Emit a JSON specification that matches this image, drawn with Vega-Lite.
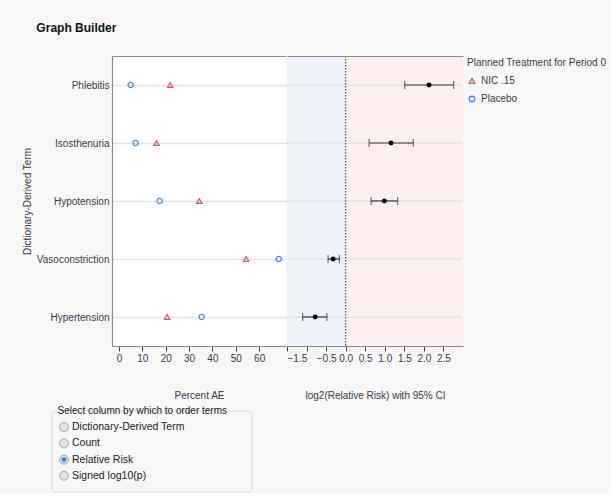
{
  "$schema": "https://vega.github.io/schema/vega-lite/v6.json",
  "background": "#f7f7f7",
  "padding": {"left": 22, "top": 22, "right": 0, "bottom": 0},
  "config": {
    "font": "Liberation Sans",
    "view": {"stroke": null, "fill": "white"},
    "axis": {"labelFont": "Liberation Sans", "labelFontSize": 10, "labelColor": "#3a3a4a", "titleFont": "Liberation Sans", "titleFontSize": 10, "titleFontWeight": "normal", "titleColor": "#3a3a4a", "domainColor": "#8a8a8a", "domainWidth": 1.2, "tickColor": "#444", "gridColor": "#e4e4e4"},
    "legend": {"labelFont": "Liberation Sans", "labelFontSize": 10, "labelColor": "#3a3a4a", "titleFont": "Liberation Sans", "titleFontSize": 10, "titleFontWeight": "normal", "titleColor": "#3a3a4a"}
  },
  "title": {"text": "Graph Builder", "anchor": "start", "frame": "bounds", "fontSize": 12, "fontWeight": "bold", "color": "#111111", "font": "Liberation Sans", "offset": 20, "dx": 14},
  "datasets": {
    "pct": [
      {"term": "Phlebitis", "trt": "NIC .15", "pct": 21.9},
      {"term": "Phlebitis", "trt": "Placebo", "pct": 5.0},
      {"term": "Isosthenuria", "trt": "NIC .15", "pct": 16.1},
      {"term": "Isosthenuria", "trt": "Placebo", "pct": 7.1},
      {"term": "Hypotension", "trt": "NIC .15", "pct": 34.4},
      {"term": "Hypotension", "trt": "Placebo", "pct": 17.4},
      {"term": "Vasoconstriction", "trt": "NIC .15", "pct": 54.4},
      {"term": "Vasoconstriction", "trt": "Placebo", "pct": 68.4},
      {"term": "Hypertension", "trt": "NIC .15", "pct": 20.6},
      {"term": "Hypertension", "trt": "Placebo", "pct": 35.4}
    ],
    "rr": [
      {"term": "Phlebitis", "est": 2.13, "lo": 1.51, "hi": 2.76},
      {"term": "Isosthenuria", "est": 1.16, "lo": 0.60, "hi": 1.73},
      {"term": "Hypotension", "est": 0.99, "lo": 0.65, "hi": 1.33},
      {"term": "Vasoconstriction", "est": -0.32, "lo": -0.45, "hi": -0.16},
      {"term": "Hypertension", "est": -0.78, "lo": -1.10, "hi": -0.48}
    ],
    "bands": [
      {"side": "neg", "x0": -1.5, "x1": 0},
      {"side": "pos", "x0": 0, "x1": 3}
    ],
    "options": [
      {"option": "Dictionary-Derived Term", "selected": false},
      {"option": "Count", "selected": false},
      {"option": "Relative Risk", "selected": true},
      {"option": "Signed log10(p)", "selected": false}
    ]
  },
  "spacing": 5,
  "vconcat": [
    {
      "spacing": 0,
      "hconcat": [
        {
          "width": 174,
          "height": 290,
          "data": {"name": "pct"},
          "layer": [
            {
              "mark": {"type": "point", "filled": false, "strokeWidth": 1.3, "size": 28, "opacity": 1},
              "encoding": {
                "x": {"field": "pct", "type": "quantitative", "scale": {"domain": [-3, 71.5], "nice": false, "zero": false},
                  "axis": {"values": [0, 10, 20, 30, 40, 50, 60], "title": "Percent AE", "titlePadding": 27, "grid": false, "tickSize": 5, "labelFlush": false, "labelOverlap": false}},
                "y": {"field": "term", "type": "nominal", "sort": ["Phlebitis", "Isosthenuria", "Hypotension", "Vasoconstriction", "Hypertension"], "scale": {"type": "point", "padding": 0.5},
                  "axis": {"title": "Dictionary-Derived Term", "ticks": false, "labelPadding": 3, "grid": true, "gridWidth": 1.5, "titlePadding": 4}},
                "color": {"field": "trt", "type": "nominal", "scale": {"domain": ["NIC .15", "Placebo"], "range": ["#e0505f", "#4d86e3"]},
                  "legend": {"title": "Planned Treatment for Period 0", "orient": "right", "offset": 1, "symbolSize": 30, "symbolStrokeWidth": 1.3, "rowPadding": 7, "titlePadding": 8, "padding": 2}},
                "shape": {"field": "trt", "type": "nominal", "scale": {"domain": ["NIC .15", "Placebo"], "range": ["triangle-up", "circle"]},
                  "legend": {"title": "Planned Treatment for Period 0", "orient": "right", "offset": 1, "symbolSize": 30, "symbolStrokeWidth": 1.3, "rowPadding": 7, "titlePadding": 8, "padding": 2}}
              }
            },
            {
              "mark": {"type": "point", "opacity": 0},
              "encoding": {
                "x": {"field": "pct", "type": "quantitative", "axis": {"orient": "top", "labels": false, "ticks": false, "title": null, "grid": false}}
              }
            }
          ],
          "resolve": {"axis": {"x": "independent"}}
        },
        {
          "width": 176,
          "height": 290,
          "layer": [
            {
              "data": {"name": "bands"},
              "transform": [{"filter": "datum.side == 'neg'"}],
              "mark": {"type": "rect", "color": "#edf2fd"},
              "encoding": {
                "x": {"field": "x0", "type": "quantitative", "scale": {"domain": [-1.5, 3], "nice": false, "zero": false},
                  "axis": {"orient": "top", "labels": false, "ticks": false, "title": null, "grid": false, "zindex": 2}},
                "x2": {"field": "x1"}
              }
            },
            {
              "data": {"name": "bands"},
              "transform": [{"filter": "datum.side == 'pos'"}],
              "mark": {"type": "rect", "color": "#fdeff0"},
              "encoding": {
                "x": {"field": "x0", "type": "quantitative", "axis": null},
                "x2": {"field": "x1"}
              }
            },
            {
              "data": {"name": "rr"},
              "mark": {"type": "rule", "color": "#e3e3e3", "strokeWidth": 1.5},
              "encoding": {
                "y": {"field": "term", "type": "nominal", "sort": ["Phlebitis", "Isosthenuria", "Hypotension", "Vasoconstriction", "Hypertension"], "scale": {"type": "point", "padding": 0.5},
                  "axis": {"orient": "right", "labels": false, "ticks": false, "title": null, "grid": false, "zindex": 2}}
              }
            },
            {
              "data": {"name": "bands"},
              "transform": [{"filter": "datum.side == 'pos'"}],
              "mark": {"type": "rule", "color": "#555555", "strokeDash": [1.5, 1.5], "strokeWidth": 1.2},
              "encoding": {
                "x": {"field": "x0", "type": "quantitative", "axis": null}
              }
            },
            {
              "data": {"name": "rr"},
              "mark": {"type": "rule", "color": "#333333", "strokeWidth": 1.2},
              "encoding": {
                "x": {"field": "lo", "type": "quantitative",
                  "axis": {"values": [-1.5, -1, -0.5, 0, 0.5, 1, 1.5, 2, 2.5], "format": ".1f", "labelExpr": "datum.value == -1 ? '' : datum.label", "title": "log2(Relative Risk) with 95% CI", "titlePadding": 27, "tickSize": 5, "labelFlush": true, "labelOverlap": false, "grid": false, "zindex": 2}},
                "x2": {"field": "hi"},
                "y": {"field": "term", "type": "nominal", "sort": ["Phlebitis", "Isosthenuria", "Hypotension", "Vasoconstriction", "Hypertension"], "axis": null}
              }
            },
            {
              "data": {"name": "rr"},
              "mark": {"type": "tick", "orient": "vertical", "color": "#333333", "size": 8, "thickness": 1.2},
              "encoding": {
                "x": {"field": "lo", "type": "quantitative", "axis": null},
                "y": {"field": "term", "type": "nominal", "sort": ["Phlebitis", "Isosthenuria", "Hypotension", "Vasoconstriction", "Hypertension"], "axis": null}
              }
            },
            {
              "data": {"name": "rr"},
              "mark": {"type": "tick", "orient": "vertical", "color": "#333333", "size": 8, "thickness": 1.2},
              "encoding": {
                "x": {"field": "hi", "type": "quantitative", "axis": null},
                "y": {"field": "term", "type": "nominal", "sort": ["Phlebitis", "Isosthenuria", "Hypotension", "Vasoconstriction", "Hypertension"], "axis": null}
              }
            },
            {
              "data": {"name": "rr"},
              "mark": {"type": "circle", "color": "#000000", "size": 24, "opacity": 1},
              "encoding": {
                "x": {"field": "est", "type": "quantitative", "axis": null},
                "y": {"field": "term", "type": "nominal", "sort": ["Phlebitis", "Isosthenuria", "Hypotension", "Vasoconstriction", "Hypertension"], "axis": null}
              }
            }
          ],
          "resolve": {"axis": {"x": "independent"}}
        }
      ]
    },
    {
      "width": 140,
      "height": 81,
      "view": {"fill": null, "stroke": null},
      "title": {"text": "Select column by which to order terms", "anchor": "start", "fontSize": 10, "fontWeight": "normal", "color": "#222222", "font": "Liberation Sans", "offset": -5, "dx": 6},
      "data": {"name": "options"},
      "layer": [
        {
          "transform": [{"filter": "datum.selected"}],
          "mark": {"type": "rect", "fill": null, "stroke": "#d6d6d6", "strokeWidth": 1, "cornerRadius": 3},
          "encoding": {
            "x": {"datum": -3, "type": "quantitative", "scale": {"domain": [0, 7], "nice": false, "zero": false}, "axis": null},
            "x2": {"datum": 7}
          }
        },
        {
          "mark": {"type": "point", "filled": true, "size": 80, "color": "#e2e2e2", "stroke": "#a8a8a8", "strokeWidth": 1, "opacity": 1},
          "encoding": {
            "x": {"datum": -2.4, "type": "quantitative", "axis": null},
            "y": {"field": "option", "type": "nominal", "sort": null, "scale": {"type": "point", "padding": 1.05}, "axis": null}
          }
        },
        {
          "transform": [{"filter": "datum.selected"}],
          "mark": {"type": "point", "filled": true, "size": 22, "color": "#2a8fc8", "opacity": 1},
          "encoding": {
            "x": {"datum": -2.4, "type": "quantitative", "axis": null},
            "y": {"field": "option", "type": "nominal", "sort": null, "axis": null}
          }
        },
        {
          "mark": {"type": "text", "align": "left", "dx": 8, "fontSize": 10.5, "color": "#222222", "font": "Liberation Sans"},
          "encoding": {
            "x": {"datum": -2.4, "type": "quantitative", "axis": null},
            "y": {"field": "option", "type": "nominal", "sort": null, "axis": null},
            "text": {"field": "option"}
          }
        }
      ]
    }
  ]
}
